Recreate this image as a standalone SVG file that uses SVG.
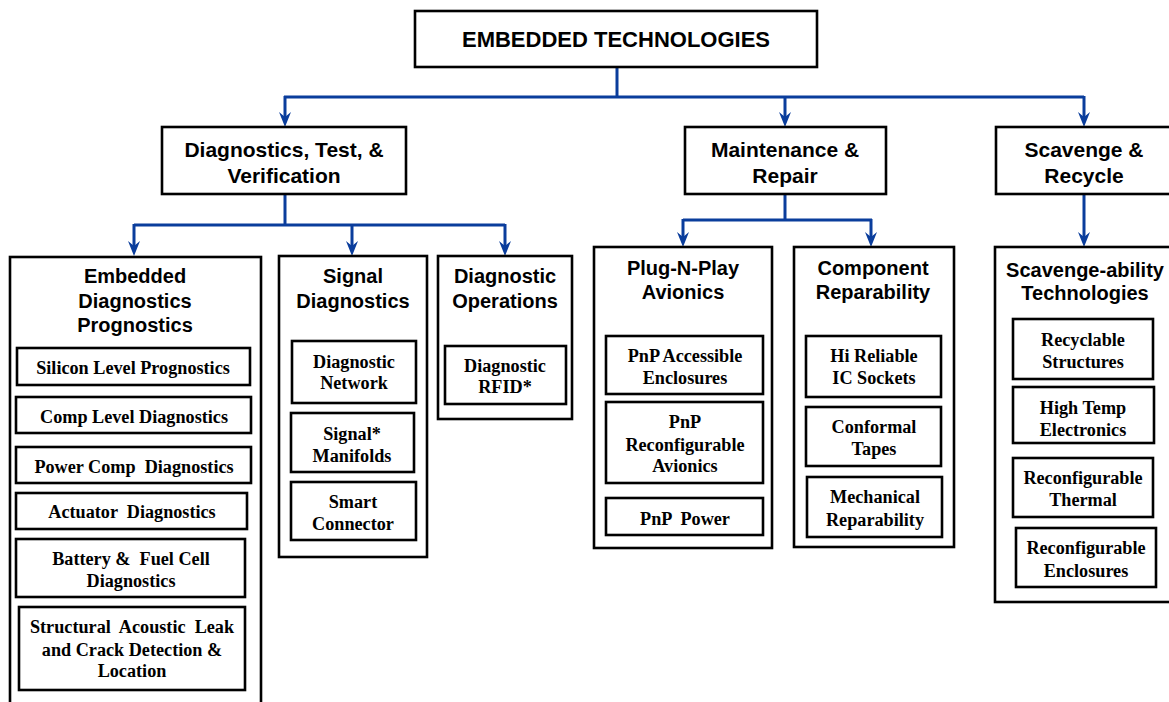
<svg xmlns="http://www.w3.org/2000/svg" width="1169" height="702" viewBox="0 0 1169 702">
<style>
.box{fill:#fff;stroke:#000;stroke-width:2.6}
.ib{fill:#fff;stroke:#000;stroke-width:2.6}
.c{fill:none;stroke:#0a3d9c;stroke-width:3}
text{text-anchor:middle;fill:#000}
.t1{font-family:"Liberation Sans",Arial,sans-serif;font-weight:bold;font-size:22px}
.t2{font-family:"Liberation Sans",Arial,sans-serif;font-weight:bold;font-size:21px}
.t3{font-family:"Liberation Sans",Arial,sans-serif;font-weight:bold;font-size:20px}
.t4{font-family:"Liberation Serif","Times New Roman",serif;font-weight:bold;font-size:18.2px}
</style>
<defs>
<marker id="ah" markerWidth="15" markerHeight="12" refX="5" refY="6" orient="auto" markerUnits="userSpaceOnUse">
<path d="M0,0 L15,6 L0,12 L5,6 Z" fill="#0a3d9c"/>
</marker>
</defs>
<rect width="1169" height="702" fill="#fff"/>
<g id="connectors">
<path class="c" d="M617,67 V97"/>
<path class="c" d="M284,97 H1084"/>
<path class="c" d="M285,96 V117" marker-end="url(#ah)"/>
<path class="c" d="M785,96 V117" marker-end="url(#ah)"/>
<path class="c" d="M1084,96 V117" marker-end="url(#ah)"/>
<path class="c" d="M285,194 V225"/>
<path class="c" d="M134,225 H505"/>
<path class="c" d="M134,224 V246" marker-end="url(#ah)"/>
<path class="c" d="M352,224 V246" marker-end="url(#ah)"/>
<path class="c" d="M505,224 V246" marker-end="url(#ah)"/>
<path class="c" d="M785,194 V220"/>
<path class="c" d="M683,220 H872"/>
<path class="c" d="M683,219 V237" marker-end="url(#ah)"/>
<path class="c" d="M871,219 V237" marker-end="url(#ah)"/>
<path class="c" d="M1084,194 V237" marker-end="url(#ah)"/>
</g>
<g id="root">
<rect class="box" x="415" y="11" width="402" height="56"/>
<text class="t1" x="616" y="47">EMBEDDED TECHNOLOGIES</text>
</g>
<g id="dtv">
<rect class="box" x="162" y="127" width="244" height="67"/>
<text class="t2" x="284" y="157">Diagnostics, Test, &amp;</text>
<text class="t2" x="284" y="183">Verification</text>
</g>
<g id="mr">
<rect class="box" x="685" y="127" width="201" height="67"/>
<text class="t2" x="785" y="157">Maintenance &amp;</text>
<text class="t2" x="785" y="183">Repair</text>
</g>
<g id="sr">
<rect class="box" x="996" y="127" width="180" height="67"/>
<text class="t2" x="1084" y="157">Scavenge &amp;</text>
<text class="t2" x="1084" y="183">Recycle</text>
</g>
<g id="edp">
<rect class="box" x="10" y="257" width="251" height="460"/>
<text class="t3" x="135" y="283">Embedded</text>
<text class="t3" x="135" y="308">Diagnostics</text>
<text class="t3" x="135" y="332">Prognostics</text>
</g>
<g id="silicon"><rect class="ib" x="17" y="348" width="233" height="37"/><text class="t4" x="133" y="374">Silicon Level Prognostics</text></g>
<g id="comp"><rect class="ib" x="16" y="397" width="235" height="36"/><text class="t4" x="134" y="423">Comp Level Diagnostics</text></g>
<g id="power"><rect class="ib" x="16" y="447" width="235" height="36"/><text class="t4" x="134" y="473" xml:space="preserve">Power Comp  Diagnostics</text></g>
<g id="actuator"><rect class="ib" x="16" y="493" width="231" height="36"/><text class="t4" x="132" y="518" xml:space="preserve">Actuator  Diagnostics</text></g>
<g id="battery"><rect class="ib" x="16" y="539" width="229" height="58"/><text class="t4" x="131" y="565" xml:space="preserve">Battery &amp;  Fuel Cell</text><text class="t4" x="131" y="587">Diagnostics</text></g>
<g id="structural"><rect class="ib" x="19" y="607" width="226" height="83"/><text class="t4" x="132" y="633" xml:space="preserve">Structural  Acoustic  Leak</text><text class="t4" x="132" y="656">and Crack Detection &amp;</text><text class="t4" x="132" y="677">Location</text></g>
<g id="sigdiag">
<rect class="box" x="279" y="256" width="148" height="301"/>
<text class="t3" x="353" y="283">Signal</text>
<text class="t3" x="353" y="308">Diagnostics</text>
</g>
<g id="dnet"><rect class="ib" x="292" y="341" width="124" height="62"/><text class="t4" x="354" y="368">Diagnostic</text><text class="t4" x="354" y="389">Network</text></g>
<g id="manifolds"><rect class="ib" x="291" y="413" width="123" height="59"/><text class="t4" x="352" y="440">Signal*</text><text class="t4" x="352" y="462">Manifolds</text></g>
<g id="smart"><rect class="ib" x="291" y="482" width="125" height="58"/><text class="t4" x="353" y="508">Smart</text><text class="t4" x="353" y="530">Connector</text></g>
<g id="diagops">
<rect class="box" x="438" y="256" width="134" height="163"/>
<text class="t3" x="505" y="283">Diagnostic</text>
<text class="t3" x="505" y="308">Operations</text>
</g>
<g id="rfid"><rect class="ib" x="445" y="346" width="121" height="58"/><text class="t4" x="505" y="372">Diagnostic</text><text class="t4" x="505" y="393">RFID*</text></g>
<g id="pnp">
<rect class="box" x="594" y="247" width="178" height="301"/>
<text class="t3" x="683" y="275">Plug-N-Play</text>
<text class="t3" x="683" y="299">Avionics</text>
</g>
<g id="pnpacc"><rect class="ib" x="606" y="336" width="157" height="58"/><text class="t4" x="685" y="362">PnP Accessible</text><text class="t4" x="685" y="384">Enclosures</text></g>
<g id="pnprec"><rect class="ib" x="606" y="402" width="157" height="81"/><text class="t4" x="685" y="428">PnP</text><text class="t4" x="685" y="451">Reconfigurable</text><text class="t4" x="685" y="472">Avionics</text></g>
<g id="pnppow"><rect class="ib" x="606" y="498" width="157" height="37"/><text class="t4" x="685" y="525" xml:space="preserve">PnP  Power</text></g>
<g id="comprep">
<rect class="box" x="794" y="247" width="160" height="300"/>
<text class="t3" x="873" y="275">Component</text>
<text class="t3" x="873" y="299">Reparability</text>
</g>
<g id="hirel"><rect class="ib" x="806" y="336" width="135" height="61"/><text class="t4" x="874" y="362">Hi Reliable</text><text class="t4" x="874" y="384">IC Sockets</text></g>
<g id="conformal"><rect class="ib" x="806" y="407" width="135" height="59"/><text class="t4" x="874" y="433">Conformal</text><text class="t4" x="874" y="455">Tapes</text></g>
<g id="mechrep"><rect class="ib" x="807" y="477" width="135" height="60"/><text class="t4" x="875" y="503">Mechanical</text><text class="t4" x="875" y="526">Reparability</text></g>
<g id="scavtech">
<rect class="box" x="995" y="247" width="185" height="355"/>
<text class="t3" x="1085" y="277">Scavenge-ability</text>
<text class="t3" x="1085" y="300">Technologies</text>
</g>
<g id="recstruct"><rect class="ib" x="1013" y="319" width="140" height="60"/><text class="t4" x="1083" y="346">Recyclable</text><text class="t4" x="1083" y="368">Structures</text></g>
<g id="hightemp"><rect class="ib" x="1013" y="387" width="141" height="56"/><text class="t4" x="1083" y="414">High Temp</text><text class="t4" x="1083" y="436">Electronics</text></g>
<g id="recthermal"><rect class="ib" x="1013" y="458" width="140" height="59"/><text class="t4" x="1083" y="484">Reconfigurable</text><text class="t4" x="1083" y="506">Thermal</text></g>
<g id="recencl"><rect class="ib" x="1016" y="528" width="140" height="59"/><text class="t4" x="1086" y="554">Reconfigurable</text><text class="t4" x="1086" y="577">Enclosures</text></g>
</svg>
